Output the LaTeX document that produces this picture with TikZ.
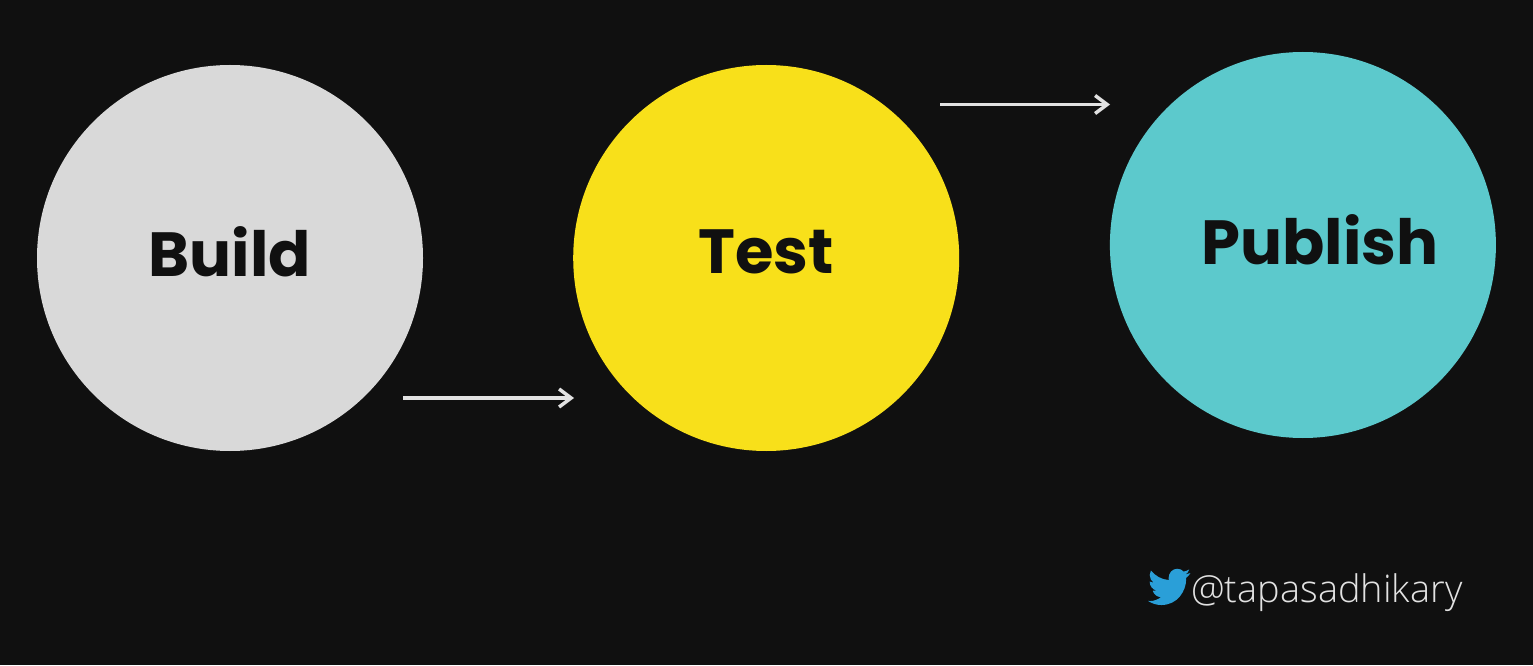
\documentclass[tikz,border=0pt]{standalone}
\usepackage{fontspec}
\setmainfont{Poppins}
\newfontfamily\handlefont{Open Sans Light}
\usetikzlibrary{arrows.meta, positioning}
\definecolor{bgblack}{HTML}{101010}
\definecolor{buildgray}{HTML}{D9D9D9}
\definecolor{testyellow}{HTML}{F8E01A}
\definecolor{publishteal}{HTML}{5CC9CC}
\definecolor{twitterblue}{HTML}{2A9FD8}
\definecolor{arrowgray}{HTML}{E2E2E2}

\begin{document}
\begin{tikzpicture}[
	stagecircle/.style={circle, minimum size=7.72cm, inner sep=0pt},
	stagetext/.style={text=bgblack, font=\fontsize{35.5}{40}\selectfont\bfseries, inner sep=0pt},
	arrow/.style={-{Straight Barb[length=2.4mm, width=3.6mm]}, line width=.7mm, arrowgray}
	]
	\fill[bgblack] (0,0) rectangle (30.66,13.3);
	\useasboundingbox (0,0) rectangle (30.66,13.3);
	
	\node[stagecircle, fill=buildgray] (build) at (4.6,8.14) {};
	\node[stagecircle, fill=testyellow, right=2.99cm of build] (test) {};
	\node[stagecircle, fill=publishteal, right=3cm of test, yshift=.26cm] (publish) {};
	
	\node[stagetext] (build-text) at (4.6,8.26) {Build};
	\node[stagetext] (test-text) at (15.32,8.26) {Test};
	\node[stagetext] (publish-text) at (26.4,8.5) {Publish};
	
	\coordinate (build-out) at (8.06,5.34);
	\coordinate (test-in) at (11.48,5.34);
	\coordinate (test-out) at (18.8,11.21);
	\coordinate (publish-in) at (22.2,11.21);
	\draw[arrow] (build-out) -- (test-in);
	\draw[arrow] (test-out) -- (publish-in);
	
	% bird
	\begin{scope}[shift={(22.96,1.94)}, xscale=.0354, yscale=-.0372]
		\fill[twitterblue] (23.95,2.72) .. controls (23.1,3.1) and (22.13,3.35) .. (21.13,3.5)
		.. controls (22.15,2.88) and (22.93,1.92) .. (23.29,.77)
		.. controls (22.34,1.33) and (21.29,1.73) .. (20.16,1.95)
		.. controls (19.26,1) and (18,.4) .. (16.57,.4)
		.. controls (13.85,.4) and (11.65,2.6) .. (11.65,5.32)
		.. controls (11.65,5.7) and (11.7,6.08) .. (11.78,6.44)
		.. controls (7.69,6.25) and (4.07,4.28) .. (1.64,1.31)
		.. controls (1.22,2.04) and (.97,2.89) .. (.97,3.79)
		.. controls (.97,5.5) and (1.84,7) .. (3.16,7.88)
		.. controls (2.35,7.86) and (1.6,7.63) .. (.93,7.27)
		-- (.93,7.33)
		.. controls (.93,9.71) and (2.63,11.7) .. (4.88,12.15)
		.. controls (4.17,12.34) and (3.4,12.37) .. (2.66,12.24)
		.. controls (3.3,14.21) and (5.14,15.61) .. (7.27,15.65)
		.. controls (5.6,16.97) and (3.47,17.76) .. (1.17,17.76)
		.. controls (.78,17.76) and (.39,17.74) .. (0,17.69)
		.. controls (2.19,19.09) and (4.78,19.9) .. (7.56,19.9)
		.. controls (16.61,19.9) and (21.56,12.4) .. (21.56,5.92)
		.. controls (21.56,5.71) and (21.56,5.5) .. (21.54,5.29)
		.. controls (22.5,4.6) and (23.33,3.73) .. (24,2.74) -- cycle;
	\end{scope}
	\node[anchor=base west, inner sep=0pt, text=arrowgray, font=\fontsize{21.6}{24}\selectfont\handlefont] (handle) at (23.82,1.26) {@tapasadhikary};
\end{tikzpicture}
\end{document}
